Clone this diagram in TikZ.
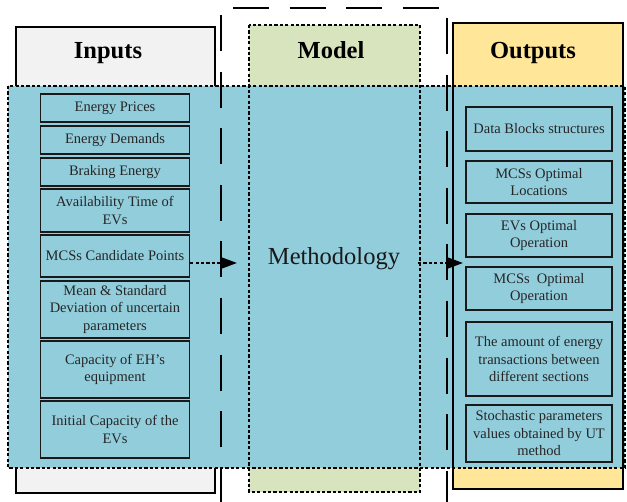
\documentclass[tikz,border=0pt]{standalone}
\usepackage{fontspec}
\setmainfont{Liberation Serif}
\usetikzlibrary{arrows.meta}

\definecolor{panelblue}{HTML}{92CDDC}
\definecolor{inputgray}{HTML}{F2F2F2}
\definecolor{modelgreen}{HTML}{D7E4BD}
\definecolor{outputyellow}{HTML}{FFE699}

\tikzset{
  dotline/.style={line width=2.2pt, dash pattern=on 3.2pt off 2.2pt},
  longdash/.style={line width=2pt, dash pattern=on 36pt off 20.6pt},
  solidframe/.style={line width=2pt, draw=black},
  heading/.style={font=\fontsize{24.5}{29}\selectfont\bfseries, anchor=base, inner sep=0pt},
  itembox/.style={draw=black!90, line width=1.4pt, inner sep=0pt, align=center,
    font=\fontsize{14.5}{17.5}\selectfont, text=black!85},
  inbox/.style={itembox, minimum width=149pt},
  outbox/.style={itembox, minimum width=146pt},
  flow/.style={dotline, -{Triangle[length=17pt,width=12pt]}},
}

\begin{document}
\begin{tikzpicture}[x=1pt,y=-1pt]
\useasboundingbox (0,0) rectangle (627,502);

% column frames
\draw[solidframe, fill=inputgray] (16,27) rectangle (215,493);
\fill[modelgreen] (249,25) rectangle (420,492);
\draw[dotline] (249,25) rectangle (420,492);
\draw[solidframe, fill=outputyellow] (453,23) rectangle (623,489);

% shared blue band
\fill[panelblue] (8,86) rectangle (625,468);
\draw[dotline] (8,86) rectangle (625,468);

% frames that stay visible over the band
\draw[dotline] (249,25) rectangle (420,492);
\draw[solidframe] (453,23) rectangle (623,489);

% long dashed model boundary
\draw[longdash] (233,8) -- (450,8);
\draw[longdash] (221,15) -- (221,502);
\draw[longdash] (447,18) -- (447,502);

% headings
\node[heading] (hin) at (108,59) {Inputs};
\node[heading] (hmodel) at (331,59) {Model};
\node[heading] (hout) at (533,59) {Outputs};

\node[font=\fontsize{24.5}{29}\selectfont, anchor=base, inner sep=0pt, text=black!90] (meth) at (334,265) {Methodology};

% inputs
\node[inbox, minimum height=28pt] (in1) at (115,108) {Energy Prices};
\node[inbox, minimum height=28pt] (in2) at (115,140) {Energy Demands};
\node[inbox, minimum height=28pt] (in3) at (115,172) {Braking Energy};
\node[inbox, minimum height=43pt] (in4) at (115,210.5) {Availability Time of\\EVs};
\node[inbox, minimum height=42pt] (in5) at (115,256) {MCSs Candidate Points};
\node[inbox, minimum height=57pt] (in6) at (115,309.5) {Mean \& Standard\\Deviation of uncertain\\parameters};
\node[inbox, minimum height=57pt] (in7) at (115,369.5) {Capacity of EH’s\\equipment};
\node[inbox, minimum height=57pt] (in8) at (115,429.5) {Initial Capacity of the\\EVs};

% outputs
\node[outbox, minimum height=44pt] (out1) at (539,129) {Data Blocks structures};
\node[outbox, minimum height=42pt] (out2) at (539,182) {MCSs Optimal\\Locations};
\node[outbox, minimum height=43pt] (out3) at (539,235.5) {EVs Optimal\\Operation};
\node[outbox, minimum height=43pt] (out4) at (539,288.5) {MCSs\ \ Optimal\\Operation};
\node[outbox, minimum height=74pt] (out5) at (539,359) {The amount of energy\\transactions between\\different sections};
\node[outbox, minimum height=57pt] (out6) at (539,433.5) {Stochastic parameters\\values obtained by UT\\method};

% flow arrows
\coordinate (tipin) at (237,263);
\coordinate (startout) at (418,263);
\coordinate (tipout) at (463,263);
\draw[flow] (in5.east |- tipin) -- (tipin);
\draw[flow] (startout) -- (tipout);
\end{tikzpicture}
\end{document}
